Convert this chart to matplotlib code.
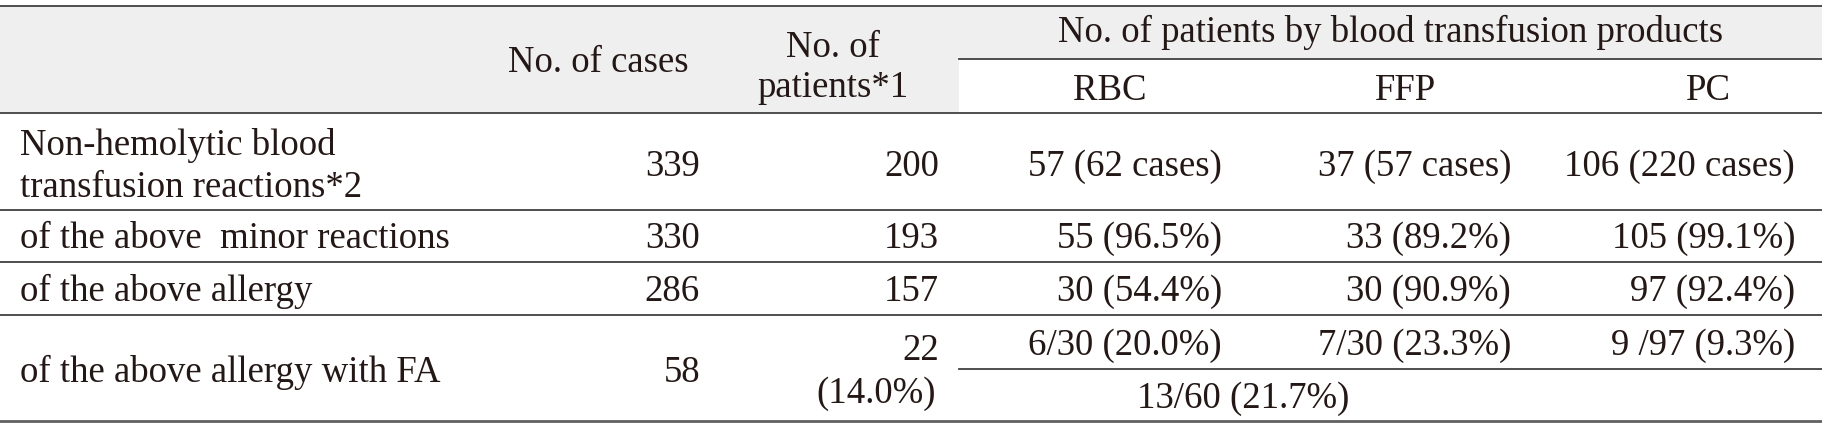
import matplotlib
matplotlib.use("Agg")
import matplotlib.pyplot as plt

# table content
row_labels = ["Non-hemolytic blood\ntransfusion reactions*2",
              "of the above  minor reactions",
              "of the above allergy",
              "of the above allergy with FA"]
n_cases = ["339", "330", "286", "58"]
n_patients = ["200", "193", "157", "22"]
patients_fa_pct = "(14.0%)"
products = ["RBC", "FFP", "PC"]
rbc = ["57 (62 cases)", "55 (96.5%)", "30 (54.4%)", "6/30 (20.0%)"]
ffp = ["37 (57 cases)", "33 (89.2%)", "30 (90.9%)", "7/30 (23.3%)"]
pc = ["106 (220 cases)", "105 (99.1%)", "97 (92.4%)", "9 /97 (9.3%)"]
rbc_ffp_fa = "13/60 (21.7%)"

W, H = 1822, 429
FS = 26.5
TXT = "#231815"
LINE = "#404040"
GRAY = "#efefef"
font = dict(family=["Liberation Serif", "DejaVu Serif"], fontsize=FS, color=TXT)

fig = plt.figure(figsize=(W / 100, H / 100), dpi=100)
ax = fig.add_axes([0, 0, 1, 1])
ax.set_xlim(0, W)
ax.set_ylim(H, 0)
ax.axis("off")

# layout (pixels)
split_x = 959          # start of product columns
ffp_end = 1528
y_top, y_sub, y_head = 6, 59, 112.5
row_bottoms = [209.5, 262, 315, 421]
y_inner = 368.5
label_x = 20
right_x = [700, 939, 1222, 1511, 1795]
head_cx = [598, 833, 1110, 1406, 1708]

# header shading
ax.fill_between([0, W], y_top, y_sub, color=GRAY, lw=0)
ax.fill_between([0, split_x], y_sub, y_head, color=GRAY, lw=0)

# rules
for y in [y_top, y_head] + row_bottoms[:-1]:
    ax.plot([0, W], [y, y], color=LINE, lw=1.3, solid_capstyle="butt")
ax.plot([0, W], [row_bottoms[-1], row_bottoms[-1]], color="#606060", lw=2.0)
ax.plot([split_x, W], [y_sub, y_sub], color=LINE, lw=1.3)
ax.plot([split_x, W], [y_inner, y_inner], color=LINE, lw=1.3)

# header text
ax.text(head_cx[0], 72, "No. of cases", ha="center", va="baseline", **font)
ax.text(head_cx[1], 57, "No. of", ha="center", va="baseline", **font)
ax.text(head_cx[1], 97, "patients*1", ha="center", va="baseline", **font)
ax.text((split_x + W) / 2, 42, "No. of patients by blood transfusion products",
        ha="center", va="baseline", **font)
for cx, name in zip(head_cx[2:], products):
    ax.text(cx, 100, name, ha="center", va="baseline", **font)

# body rows
ax.text(label_x, 155, row_labels[0].split("\n")[0], ha="left", va="baseline", **font)
ax.text(label_x, 197, row_labels[0].split("\n")[1], ha="left", va="baseline", **font)
label_base = [None, 248, 301, 382]
case_base = [176, 248, 301, 382]
patient_base = [176, 248, 301, 360]
value_base = [176, 248, 301, 355]
for i in range(1, 4):
    ax.text(label_x, label_base[i], row_labels[i], ha="left", va="baseline", **font)

for i in range(4):
    ax.text(right_x[0], case_base[i], n_cases[i], ha="right", va="baseline", **font)
    ax.text(right_x[1], patient_base[i], n_patients[i], ha="right", va="baseline", **font)
    for j, col in enumerate([rbc, ffp, pc]):
        ax.text(right_x[2 + j], value_base[i], col[i], ha="right", va="baseline", **font)

ax.text(right_x[1] - 3, 403, patients_fa_pct, ha="right", va="baseline", **font)
ax.text((split_x + ffp_end) / 2, 408, rbc_ffp_fa, ha="center", va="baseline", **font)

fig.savefig("out.png", dpi=100, facecolor="white")
